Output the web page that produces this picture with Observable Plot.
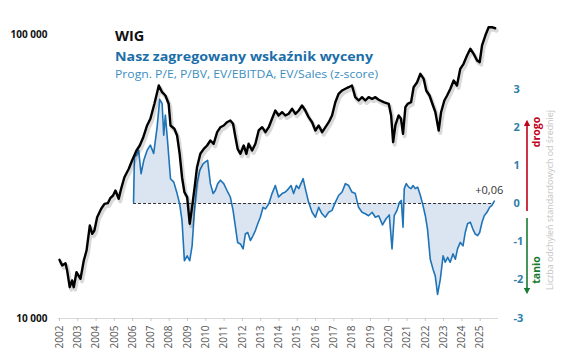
<!DOCTYPE html>
<html><head><meta charset="utf-8">
<script src="https://cdn.jsdelivr.net/npm/d3@7"></script>
<script src="https://cdn.jsdelivr.net/npm/@observablehq/plot@0.6"></script>
<style>
body{margin:0;background:#fff;font-family:"Open Sans",sans-serif}
#wrap{position:relative;width:564px;height:351px}
#wrap svg{position:absolute;left:0;top:0}
</style></head><body>
<div id="wrap"></div>
<script>
// WIG index (log scale, left axis)
const wigYears = [2002.00,2002.15,2002.33,2002.42,2002.56,2002.69,2002.78,2002.93,2003.15,2003.33,2003.48,2003.66,2003.79,2003.91,2004.06,2004.28,2004.46,2004.64,2004.79,2004.93,2005.06,2005.24,2005.37,2005.55,2005.79,2005.97,2006.21,2006.39,2006.57,2006.79,2006.97,2007.19,2007.43,2007.61,2007.79,2007.97,2008.07,2008.28,2008.43,2008.57,2008.70,2008.83,2008.98,2009.12,2009.25,2009.39,2009.52,2009.70,2009.89,2010.07,2010.25,2010.43,2010.62,2010.80,2010.98,2011.16,2011.34,2011.49,2011.62,2011.74,2011.89,2012.07,2012.22,2012.34,2012.53,2012.71,2012.89,2013.08,2013.26,2013.44,2013.62,2013.80,2013.98,2014.17,2014.35,2014.53,2014.72,2014.90,2015.08,2015.26,2015.44,2015.62,2015.81,2015.99,2016.17,2016.36,2016.54,2016.72,2016.90,2017.08,2017.26,2017.45,2017.63,2017.81,2017.99,2018.17,2018.36,2018.54,2018.72,2018.90,2019.09,2019.27,2019.45,2019.72,2020.00,2020.13,2020.24,2020.36,2020.54,2020.67,2020.78,2020.91,2021.03,2021.22,2021.36,2021.55,2021.73,2021.91,2022.05,2022.23,2022.42,2022.55,2022.73,2022.86,2023.04,2023.19,2023.37,2023.55,2023.73,2023.91,2024.09,2024.28,2024.46,2024.64,2024.83,2024.97,2025.10,2025.28,2025.46,2025.64,2025.82];
const wigValues = [16100,15370,15650,14760,12890,13610,12890,14550,13800,16000,17350,21260,19870,20410,22740,24340,25340,25470,26610,27110,28230,26390,28620,31440,33660,36000,39040,40660,43280,47820,50490,57020,66130,62640,60990,57020,47820,46560,44090,38020,31440,27850,26740,21560,24660,29000,34100,38020,39580,40660,42350,41230,45290,47160,47820,49110,49800,48480,43490,39580,38020,40660,38020,41230,39040,41230,45920,47160,45290,47160,50490,54000,51860,53260,51860,52580,54750,52580,54000,56230,54000,51150,49110,45920,47820,45290,47160,49110,51860,57760,61830,63510,64400,65230,66130,60150,58560,60150,58560,60150,59370,60150,58900,57760,57020,51860,41770,47820,51860,50490,44710,55460,57020,57760,65230,67920,72710,69820,63510,60990,56230,53260,45920,53260,58560,60990,64400,68870,66130,75720,78850,84330,89070,85510,80990,79880,91480,99190,106100,106100,105200];
// Aggregated valuation z-score (right axis)
const zYears = [2006.05,2006.10,2006.21,2006.33,2006.46,2006.61,2006.79,2006.97,2007.15,2007.34,2007.48,2007.61,2007.70,2007.79,2007.92,2008.07,2008.25,2008.43,2008.57,2008.70,2008.83,2008.98,2009.12,2009.25,2009.38,2009.52,2009.67,2009.85,2009.98,2010.10,2010.25,2010.40,2010.52,2010.65,2010.80,2010.98,2011.16,2011.34,2011.49,2011.62,2011.74,2011.89,2012.04,2012.16,2012.29,2012.44,2012.58,2012.71,2012.84,2012.98,2013.13,2013.26,2013.44,2013.62,2013.80,2013.98,2014.17,2014.35,2014.53,2014.66,2014.80,2014.95,2015.08,2015.32,2015.44,2015.62,2015.81,2015.99,2016.17,2016.35,2016.53,2016.71,2016.90,2017.08,2017.26,2017.45,2017.63,2017.81,2017.99,2018.17,2018.35,2018.54,2018.72,2018.90,2019.09,2019.27,2019.45,2019.66,2019.85,2020.03,2020.18,2020.30,2020.45,2020.59,2020.69,2020.78,2020.85,2020.96,2021.09,2021.22,2021.33,2021.45,2021.58,2021.73,2021.87,2022.00,2022.12,2022.27,2022.42,2022.54,2022.67,2022.82,2022.97,2023.09,2023.22,2023.36,2023.51,2023.64,2023.76,2023.91,2024.06,2024.18,2024.31,2024.46,2024.60,2024.73,2024.86,2024.97,2025.10,2025.22,2025.37,2025.51,2025.64,2025.77];
const zValues = [0.03,1.22,1.26,1.39,0.78,1.13,1.39,1.53,1.31,2.01,2.73,2.62,1.79,2.32,1.57,0.65,0.56,0.26,-0.01,-0.45,-1.50,-1.37,-1.50,-1.11,-0.18,0.52,0.87,1.04,1.09,1.13,0.52,0.26,0.34,0.52,0.61,0.52,0.34,0.17,-0.18,-0.62,-1.02,-1.06,-1.19,-0.80,-0.76,-0.97,-0.84,-0.71,-0.53,-0.36,-0.10,-0.14,-0.01,0.26,0.47,0.17,0.26,0.30,0.39,0.47,0.26,0.47,0.39,0.65,0.39,0.03,-0.23,-0.36,-0.10,-0.27,-0.36,-0.23,-0.18,0.03,0.21,0.30,0.52,0.47,0.30,0.26,-0.10,-0.23,-0.27,-0.32,-0.23,-0.36,-0.32,-0.56,-0.40,-0.30,-1.19,-0.32,-0.18,0.03,0.08,-0.62,0.39,0.52,0.43,0.39,0.47,0.39,0.43,0.21,-0.05,-0.32,-0.67,-1.46,-1.72,-1.89,-2.38,-1.98,-1.37,-1.54,-1.41,-1.54,-1.32,-1.46,-1.19,-1.02,-1.11,-0.76,-0.53,-0.49,-0.67,-0.80,-0.84,-0.76,-0.49,-0.32,-0.23,-0.10,-0.05,0.06];
const xTicks = d3.range(2002, 2026);
const leftTicks = [10000, 100000];
const rightTicks = [-3, -2, -1, 0, 1, 2, 3];

// secondary axis mapping: z-score -> equivalent position on the WIG log axis
const yLog = d3.scaleLog([1e4, 1e5], [318, 34]);
const zLin = d3.scaleLinear([-3, 3], [317.5, 88.5]);
const zToWig = z => yLog.invert(zLin(z));
const wigToZ = v => zLin.invert(yLog(v));

const wig = wigYears.map((x, i) => ({x, v: wigValues[i]}));
const zs = zYears.map((x, i) => ({x, z: zValues[i], v: zToWig(zValues[i])}));
const base = zToWig(0);
const last = zs[zs.length - 1];
const fmtThousands = d => String(d).replace(/\B(?=(\d{3})+(?!\d))/g, " ");

const chart = Plot.plot({
  width: 564, height: 351,
  marginTop: 34, marginBottom: 33, marginLeft: 57.5, marginRight: 66,
  style: {fontFamily: "'Open Sans', sans-serif", background: "transparent", overflow: "visible"},
  x: {domain: [2001.92, 2026.0]},
  y: {type: "log", domain: [1e4, 1e5]},
  marks: [
    Plot.ruleY([1e4], {stroke: "#d9d9d9"}),
    Plot.axisX(xTicks, {tickRotate: -90, tickFormat: d => String(d), tickSize: 3, tickPadding: 4, stroke: "#c8c8c8", fill: "#555", fontSize: 10}),
    Plot.axisY(leftTicks, {anchor: "left", tickSize: 0, tickPadding: 10.5, tickFormat: fmtThousands, fontWeight: "bold", fontSize: 10, fill: "#111"}),
    Plot.axisY(rightTicks.map(zToWig), {anchor: "right", tickSize: 0, tickPadding: 15, textAnchor: "start",
      tickFormat: v => String(Math.round(wigToZ(v))), fontWeight: "bold", fontSize: 11, fill: "#2f7fa8"}),
    Plot.areaY(zs, {x: "x", y1: () => base, y2: "v", fill: "#dbe4f1"}),
    Plot.ruleY([{y: base, x1: zs[0].x, x2: last.x}], {y: "y", x1: "x1", x2: "x2", stroke: "#333", strokeDasharray: "3,2"}),
    Plot.line(zs, {x: "x", y: "v", stroke: "#1f74b8", strokeWidth: 1.6}),
    Plot.line(wig, {x: "x", y: "v", stroke: "#000", strokeOpacity: 0.15, strokeWidth: 4, dx: 1.5, dy: 2.5}),
    Plot.line(wig, {x: "x", y: "v", stroke: "#000", strokeWidth: 2.4}),
    Plot.text([last], {x: "x", y: "v", text: d => "+" + d.z.toFixed(2).replace(".", ","), dx: -5, dy: -11, fontSize: 11, fill: "#333"})
  ]
});
const wrap = document.getElementById("wrap");
wrap.appendChild(chart);

// annotation overlay (titles, arrows, side labels)
const ns = "http://www.w3.org/2000/svg";
const ov = document.createElementNS(ns, "svg");
ov.setAttribute("width", 564); ov.setAttribute("height", 351);
ov.setAttribute("font-family", "'Open Sans', sans-serif");
ov.innerHTML = `
<defs>
 <marker id="ar" viewBox="0 0 10 10" refX="5" refY="5" markerWidth="4" markerHeight="4" orient="auto-start-reverse"><path d="M0,0L10,5L0,10z" fill="#c0001a"/></marker>
 <marker id="ag" viewBox="0 0 10 10" refX="5" refY="5" markerWidth="4" markerHeight="4" orient="auto-start-reverse"><path d="M0,0L10,5L0,10z" fill="#1a7a30"/></marker>
</defs>
<text x="115" y="40.5" font-size="14.5" font-weight="bold" fill="#111">WIG</text>
<text x="115" y="60.5" font-size="13" font-weight="bold" fill="#1b6ea8" textLength="258" lengthAdjust="spacingAndGlyphs">Nasz zagregowany wskaźnik wyceny</text>
<text x="115" y="77.5" font-size="11" fill="#3b8ec2" textLength="263" lengthAdjust="spacingAndGlyphs">Progn. P/E, P/BV, EV/EBITDA, EV/Sales (z-score)</text>
<line x1="527" y1="211" x2="527" y2="123" stroke="#c0001a" stroke-width="1.6" marker-end="url(#ar)"/>
<line x1="527" y1="218" x2="527" y2="291" stroke="#1a7a30" stroke-width="1.6" marker-end="url(#ag)"/>
<text transform="translate(539.5,132) rotate(-90)" text-anchor="middle" font-size="10.5" font-weight="bold" fill="#c0001a">drogo</text>
<text transform="translate(539.5,270) rotate(-90)" text-anchor="middle" font-size="10.5" font-weight="bold" fill="#1a7a30">tanio</text>
<text transform="translate(553,200) rotate(-90)" text-anchor="middle" font-size="9.5" fill="#c4c4c4" textLength="180" lengthAdjust="spacingAndGlyphs">Liczba odchyleń standardowych od średniej</text>
`;
wrap.appendChild(ov);
</script>
</body></html>
